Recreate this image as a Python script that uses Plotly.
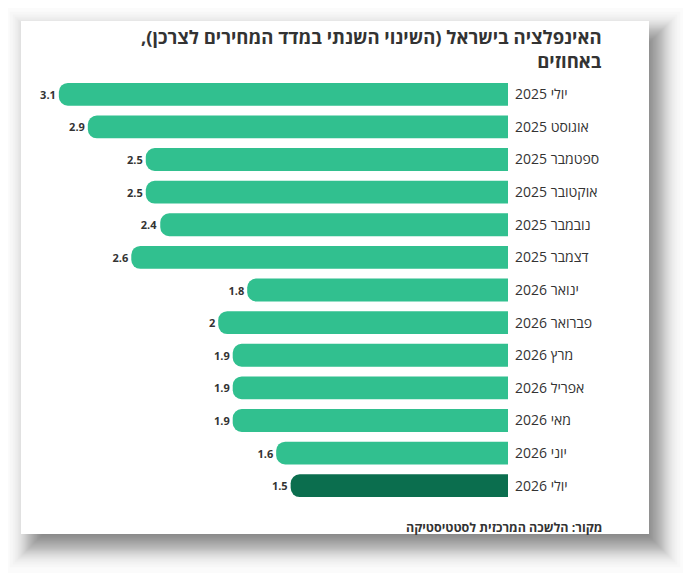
from statistics import NormalDist

import plotly.graph_objects as go

# inflation in Israel, yearly change of CPI (%)
months = [
    "יולי 2025", "אוגוסט 2025", "ספטמבר 2025", "אוקטובר 2025", "נובמבר 2025",
    "דצמבר 2025", "ינואר 2026", "פברואר 2026", "מרץ 2026", "אפריל 2026",
    "מאי 2026", "יוני 2026", "יולי 2026",
]
values = [3.1, 2.9, 2.5, 2.5, 2.4, 2.6, 1.8, 2, 1.9, 1.9, 1.9, 1.6, 1.5]
highlight = "יולי 2026"

title = "האינפלציה בישראל (השינוי השנתי במדד המחירים לצרכן),\u200f<br>באחוזים"
source = "מקור: הלשכה המרכזית לסטטיסטיקה"

W, H = 691, 577
OFF = 8  # page body margin
L, R, T, B = 40 - OFF, 183 + OFF, 78 - OFF, 75 + OFF
FONT = "Open Sans, Noto Sans, DejaVu Sans, sans-serif"


def px(x):
    return (x - OFF - L) / (W - L - R)


def py(y):
    return 1 - (y - OFF - T) / (H - T - B)


labels = ["\u200f" + m for m in months]
colors = ["#0b6e4e" if m == highlight else "#31c08f" for m in months]

fig = go.Figure(go.Bar(
    x=values,
    y=labels,
    orientation="h",
    marker=dict(color=colors, cornerradius=9, line=dict(width=0)),
    text=[f"{v:g}" for v in values],
    textposition="outside",
    textfont=dict(family=FONT, size=11, color="#333333", weight="bold"),
    cliponaxis=False,
    hoverinfo="skip",
))

# card with a blurred drop shadow: stacked rects, sizes spread like a gaussian
shapes = []
n, sigma, ox, oy = 40, 12, 10, 12
alpha = 1 - 0.5 ** (1 / n)
nd = NormalDist()
for i in range(n):
    g = sigma * nd.inv_cdf(1 - (i + 0.5) / n)
    shapes.append(dict(
        type="rect", xref="paper", yref="paper", layer="below",
        x0=px(21 + ox - g), x1=px(649 + ox + g),
        y0=py(534 + oy + g), y1=py(21 + oy - g),
        fillcolor=f"rgba(0,0,0,{alpha:.4f})", line=dict(width=0),
    ))
shapes.append(dict(
    type="rect", xref="paper", yref="paper", layer="below",
    x0=px(21), x1=px(649), y0=py(534), y1=py(21),
    fillcolor="white", line=dict(width=0),
))

fig.update_layout(
    width=W, height=H,
    margin=dict(l=L, r=R, t=T, b=B),
    paper_bgcolor="white",
    plot_bgcolor="rgba(0,0,0,0)",
    showlegend=False,
    bargap=0.3,
    font=dict(family=FONT, color="#333333"),
    shapes=shapes,
    xaxis=dict(range=[3.23, 0], visible=False),
    yaxis=dict(
        side="right", autorange="reversed", showgrid=False, zeroline=False,
        showline=False, ticks="", ticklabelstandoff=6,
        tickfont=dict(family=FONT, size=14, color="#333333"),
    ),
    annotations=[
        dict(text="<b>" + title + "</b>", xref="paper", yref="paper",
             x=px(604), y=py(22), xanchor="right", yanchor="top", align="right",
             showarrow=False, font=dict(family=FONT, size=18.5, color="#333333")),
        dict(text="<b>" + source + "</b>", xref="paper", yref="paper",
             x=px(604), y=py(527), xanchor="right", yanchor="middle",
             showarrow=False, font=dict(family=FONT, size=12.5, color="#333333")),
    ],
)

fig.write_html("out.html")
